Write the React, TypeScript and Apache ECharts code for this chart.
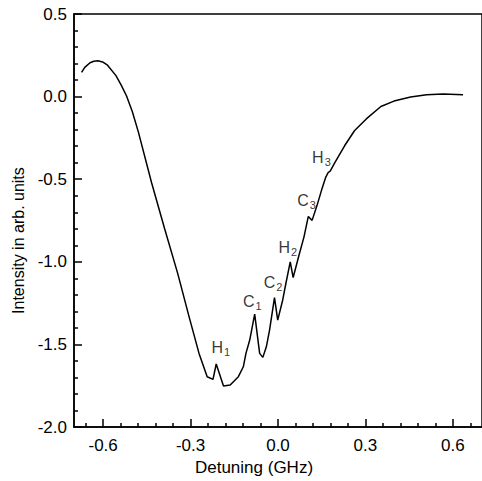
import React, { useEffect, useRef } from "react";
import * as echarts from "echarts";

const detuning = [
  -0.674, -0.663, -0.645, -0.632, -0.618, -0.602, -0.585, -0.556, -0.538, -0.52, -0.5, -0.479, -0.434,
  -0.389, -0.344, -0.305, -0.271, -0.243, -0.223, -0.212, -0.187, -0.164, -0.136, -0.119, -0.11,
  -0.097, -0.08, -0.063, -0.052, -0.04, -0.029, -0.012, -0.001, 0.016, 0.027, 0.042, 0.052, 0.072,
  0.089, 0.104, 0.117, 0.134, 0.151, 0.164, 0.172, 0.179, 0.196, 0.229, 0.263, 0.303, 0.353, 0.398,
  0.455, 0.51, 0.567, 0.635,
];
const intensity = [
  0.147, 0.177, 0.205, 0.214, 0.217, 0.21, 0.19, 0.127, 0.07, 0.005, -0.09, -0.215, -0.52,
  -0.8, -1.071, -1.333, -1.554, -1.695, -1.711, -1.618, -1.751, -1.745, -1.695, -1.635, -1.554,
  -1.473, -1.316, -1.554, -1.578, -1.514, -1.413, -1.216, -1.353, -1.232, -1.131, -1.0, -1.095, -0.96,
  -0.85, -0.725, -0.749, -0.658, -0.557, -0.487, -0.46, -0.451, -0.397, -0.296, -0.205, -0.135, -0.06,
  -0.027, -0.002, 0.012, 0.016, 0.011,
];

const peakNames = ["H", "C", "C", "H", "C", "H"];
const peakIndex = ["1", "1", "2", "2", "3", "3"];
const peakX = [-0.196, -0.088, -0.017, 0.034, 0.098, 0.149];
const peakY = [-1.516, -1.238, -1.123, -0.912, -0.628, -0.368];

const xLabelValues = [-0.6, -0.3, 0.0, 0.3, 0.6];
const xMinorValues = [
  -0.66, -0.54, -0.48, -0.42, -0.36, -0.24, -0.18, -0.12, -0.06, 0.06, 0.12, 0.18, 0.24, 0.36,
  0.42, 0.48, 0.54, 0.66,
];

const FONT = "Liberation Sans, Arial, sans-serif";

export default function App() {
  const ref = useRef<HTMLDivElement>(null);
  useEffect(() => {
    if (!ref.current) return;
    const chart = echarts.init(ref.current, undefined, { renderer: "svg" });
    const lineData = detuning.map((x, i) => [x, intensity[i]]);
    const labelData = peakX.map((x, i) => ({
      value: [x, peakY[i]],
      name: peakNames[i],
      sub: peakIndex[i],
    }));
    chart.setOption({
      animation: false,
      backgroundColor: "#fff",
      grid: {
        left: 74,
        top: 14,
        width: 415,
        height: 414,
        show: true,
        borderColor: "#000",
        borderWidth: 1.5,
      },
      xAxis: [
        {
          type: "value",
          min: -0.7,
          max: 0.7,
          position: "bottom",
          name: "Detuning (GHz)",
          nameLocation: "middle",
          nameGap: 30,
          nameTextStyle: {
            color: "#000",
            fontSize: 17,
            fontFamily: FONT,
            padding: [0, 48, 0, 0],
          },
          splitLine: { show: false },
          axisLine: { show: true, onZero: false, lineStyle: { color: "#000", width: 1.5 } },
          axisTick: {
            show: true,
            inside: true,
            length: 8,
            customValues: xLabelValues,
            lineStyle: { color: "#000", width: 1.5 },
          },
          axisLabel: {
            show: true,
            customValues: xLabelValues,
            margin: 10,
            color: "#000",
            fontSize: 17,
            fontFamily: FONT,
            formatter: (v: number) => v.toFixed(1),
          },
        },
        {
          type: "value",
          min: -0.7,
          max: 0.7,
          position: "bottom",
          splitLine: { show: false },
          axisLine: { show: false, onZero: false },
          axisTick: {
            show: true,
            inside: true,
            length: 4,
            customValues: xMinorValues,
            lineStyle: { color: "#000", width: 1.5 },
          },
          axisLabel: { show: false },
        },
      ],
      yAxis: {
        type: "value",
        min: -2,
        max: 0.5,
        interval: 0.5,
        name: "Intensity in arb. units",
        nameLocation: "middle",
        nameRotate: 90,
        nameGap: 46,
        nameTextStyle: {
          color: "#000",
          fontSize: 16,
          fontFamily: FONT,
          padding: [0, 40, 0, 0],
        },
        splitLine: { show: false },
        axisLine: { show: true, onZero: false, lineStyle: { color: "#000", width: 1.5 } },
        axisTick: { show: true, inside: true, length: 8, lineStyle: { color: "#000", width: 1.5 } },
        minorTick: { show: true, splitNumber: 5, length: 4, lineStyle: { color: "#000", width: 1.5 } },
        minorSplitLine: { show: false },
        axisLabel: {
          margin: 7,
          color: "#000",
          fontSize: 17,
          fontFamily: FONT,
          formatter: (v: number) => v.toFixed(1),
        },
      },
      series: [
        {
          type: "line",
          data: lineData,
          showSymbol: false,
          symbol: "none",
          lineStyle: { color: "#000", width: 1.5 },
          z: 3,
        },
        {
          type: "scatter",
          data: labelData,
          symbolSize: 0,
          silent: true,
          label: {
            show: true,
            position: "inside",
            formatter: (p: any) => `{m|${p.data.name}}{s|${p.data.sub}}`,
            rich: {
              m: { fontSize: 16, fontFamily: FONT, color: "#000", lineHeight: 20, verticalAlign: "middle" },
              s: {
                fontSize: 11,
                fontFamily: FONT,
                color: "#000",
                lineHeight: 20,
                verticalAlign: "bottom",
                padding: [8, 0, 0, 1],
              },
            },
          },
        },
      ],
    });
    return () => chart.dispose();
  }, []);
  return (
    <div
      ref={ref}
      style={{ position: "absolute", left: 0, top: 0, width: 482, height: 481 }}
    />
  );
}
